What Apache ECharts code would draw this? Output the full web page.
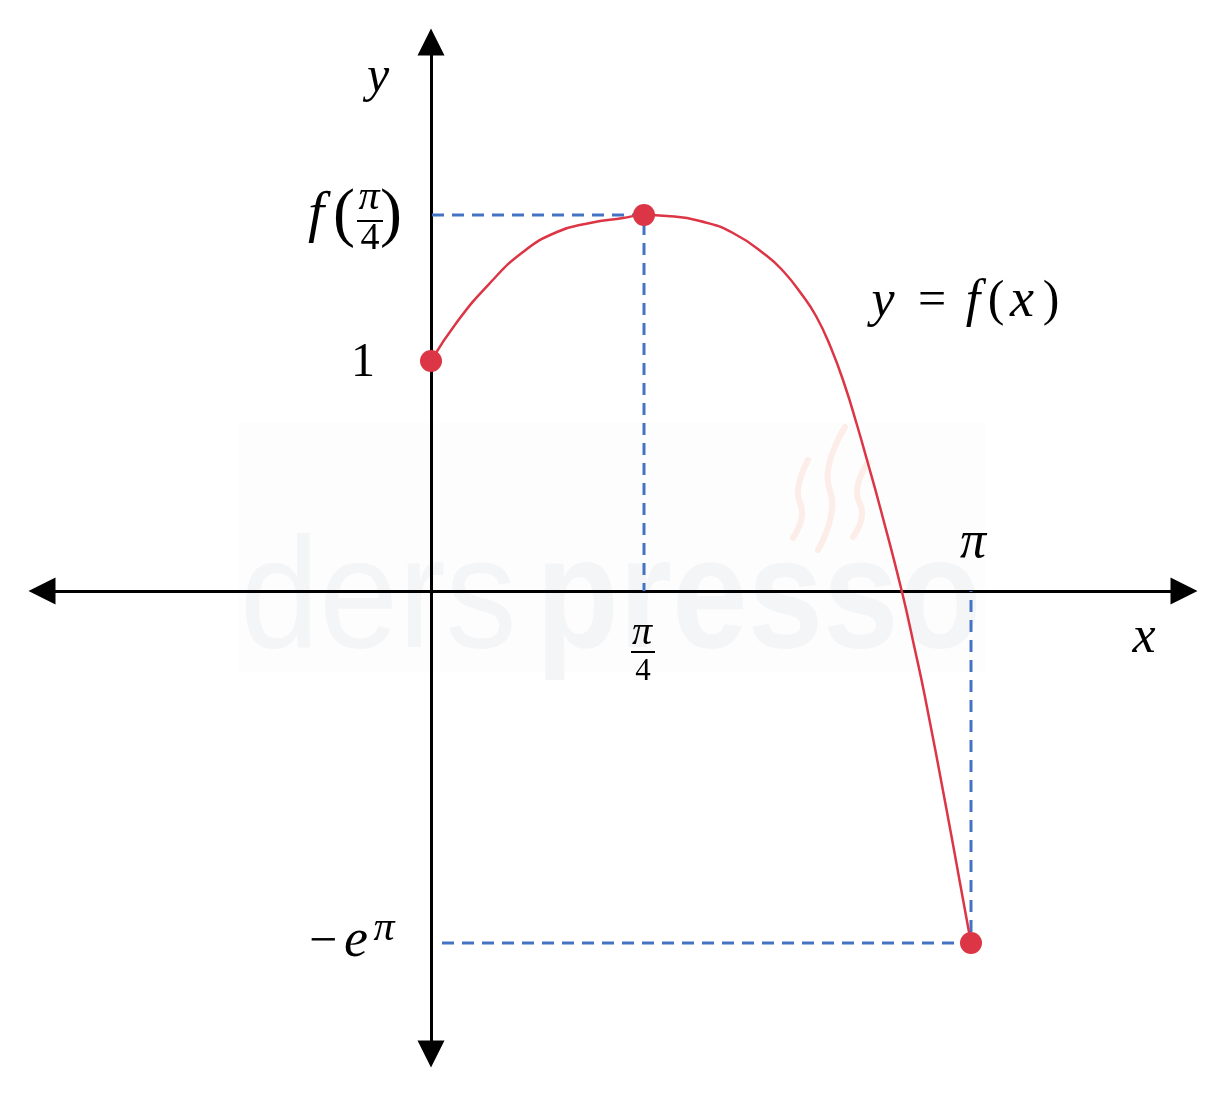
<!DOCTYPE html>
<html><head><meta charset="utf-8">
<script src="https://cdn.jsdelivr.net/npm/echarts@6/dist/echarts.min.js"></script>
<style>html,body{margin:0;padding:0;background:#fff}#c{width:1226px;height:1096px}</style>
</head><body><div id="c"></div>
<script>
// Schematic diagram units (not to scale)
const curveX = [0, 0.26, 0.59, 0.92, 1.26, 1.59, 1.92, 2.13, 2.36, 2.69, 3.02, 3.36, 3.53, 3.69, 3.85, 4.00, 4.14, 4.26, 4.36, 4.49, 4.71, 4.84, 4.94, 5.16, 5.29, 5.40];
const curveY = [2.30, 2.69, 3.08, 3.39, 3.59, 3.68, 3.73, 3.76, 3.75, 3.70, 3.58, 3.35, 3.19, 2.99, 2.75, 2.43, 2.05, 1.66, 1.31, 0.84, -0.01, -0.59, -1.06, -2.21, -2.92, -3.52];
const keyX = [0, 2.13, 5.40];          // 0, π/4, π
const keyY = [2.30, 3.76, -3.52];      // 1, f(π/4), -e^π
const guideStart = [0.01, 0.11];
const xRange = [-3.89, 7.53];
const yRange = [-4.63, 5.49];
const xTickLabels = ['π', '4', 'π'];   // π/4 numerator, denominator, π
const yTickLabels = ['1', 'f', 'π', '4', '−', 'e', 'π'];
const axisTitles = ['x', 'y'];
const curveLabel = ['y', '=', 'f', '(', 'x', ')'];

const RED = '#dc3545', BLUE = '#4472c4';
const chart = echarts.init(document.getElementById('c'), null, {renderer: 'canvas'});
const curve = curveX.map((x, i) => [x, curveY[i]]);
const keyPts = keyX.map((x, i) => [x, keyY[i]]);
const guide1 = [[guideStart[0], keyY[1]], [keyX[1], keyY[1]], [keyX[1], 0]];
const guide2 = [[guideStart[1], keyY[2]], [keyX[2], keyY[2]], [keyX[2], 0]];

const axisCommon = {
  type: 'value',
  axisLine: {onZero: true, symbol: ['triangle', 'triangle'], symbolSize: [27, 27], lineStyle: {color: '#000', width: 3}},
  axisTick: {show: false}, axisLabel: {show: false}, splitLine: {show: false}
};
chart.setOption({
  animation: false,
  grid: {left: 42, right: 42, top: 42, bottom: 42},
  xAxis: Object.assign({min: xRange[0], max: xRange[1]}, axisCommon),
  yAxis: Object.assign({min: yRange[0], max: yRange[1]}, axisCommon),
  series: [
    {type: 'line', data: guide1, symbol: 'none', lineStyle: {color: BLUE, width: 3, type: [12, 8]}, z: 3},
    {type: 'line', data: guide2, symbol: 'none', lineStyle: {color: BLUE, width: 3, type: [12, 8]}, z: 3},
    {type: 'line', data: curve, smooth: 0.5, symbol: 'none', lineStyle: {color: RED, width: 2.5}, z: 4},
    {type: 'scatter', data: keyPts, symbolSize: 22, itemStyle: {color: RED, opacity: 1}, z: 5}
  ]
});

const P = (x, y) => chart.convertToPixel({gridIndex: 0}, [x, y]);
const SERIF = '"Liberation Serif", "DejaVu Serif", serif';
function T(x, y, text, size, italic, extra) {
  return Object.assign({
    type: 'text', x: x, y: y, z: 20,
    style: {text: text, fill: '#000', fontFamily: SERIF, fontSize: size, fontStyle: italic ? 'italic' : 'normal',
      align: 'center', verticalAlign: 'middle', textAlign: 'center', textVerticalAlign: 'middle'}
  }, extra || {});
}
function L(x1, y1, x2, y2) {
  return {type: 'line', z: 20, shape: {x1: x1, y1: y1, x2: x2, y2: y2}, style: {stroke: '#000', lineWidth: 2}};
}

const yTop = P(0, yRange[1]);
const xEnd = P(xRange[1], 0);
const one = P(0, keyY[0]);
const fmax = P(0, keyY[1]);
const emin = P(0, keyY[2]);
const q = P(keyX[1], 0);
const pi = P(keyX[2], 0);
const lab = P(keyX[2], keyY[1]);

const g = [];
// watermark
const WM = '"Liberation Sans", Arial, sans-serif';
g.push({type: 'rect', z: -20, shape: {x: 238, y: 423, width: 747, height: 249}, style: {fill: '#fdfdfd'}});
g.push({type: 'text', z: -10, x: 240, y: 603, scaleX: 0.9, originX: 0, originY: 0,
  style: {text: 'ders', fill: '#f4f5f7', fontFamily: WM, fontSize: 158, align: 'left', verticalAlign: 'middle', textAlign: 'left', textVerticalAlign: 'middle'}});
g.push({type: 'text', z: -10, x: 536, y: 603, scaleX: 0.86, originX: 0, originY: 0,
  style: {text: 'presso', fill: '#f4f5f7', fontFamily: WM, fontWeight: 'bold', fontSize: 158, align: 'left', verticalAlign: 'middle', textAlign: 'left', textVerticalAlign: 'middle'}});
[[[808,460],[798,490],[802,515],[793,538]], [[845,427],[828,470],[832,510],[818,550]], [[868,462],[857,490],[862,515],[853,537]]].forEach(pts => {
  g.push({type: 'polyline', z: -10, shape: {points: pts, smooth: 0.5}, style: {stroke: '#fcede9', lineWidth: 6, lineCap: 'round', fill: null}});
});

// axis titles
g.push(T(yTop[0] - 53, yTop[1] + 36, axisTitles[1], 50, true));
g.push(T(xEnd[0] - 40, xEnd[1] + 47, axisTitles[0], 52, true));
// y labels
g.push(T(one[0] - 68, one[1] + 2, yTickLabels[0], 48, false));
g.push(T(fmax[0] - 115, fmax[1] + 1, yTickLabels[1], 58, true));
g.push(T(fmax[0] - 87, fmax[1] + 2, '(', 66, false));
g.push(T(fmax[0] - 62, fmax[1] - 17, yTickLabels[2], 42, true));
g.push(L(fmax[0] - 74, fmax[1] + 6, fmax[0] - 48, fmax[1] + 6));
g.push(T(fmax[0] - 61, fmax[1] + 24, yTickLabels[3], 38, false));
g.push(T(fmax[0] - 40, fmax[1] + 2, ')', 66, false));
g.push(T(emin[0] - 108, emin[1], yTickLabels[4], 50, false));
g.push(T(emin[0] - 75, emin[1] - 1, yTickLabels[5], 54, true));
g.push(T(emin[0] - 47, emin[1] - 14, yTickLabels[6], 42, true));
// x labels
g.push(T(q[0] - 2, q[1] + 42, xTickLabels[0], 40, true));
g.push(L(q[0] - 13, q[1] + 61, q[0] + 11, q[1] + 61));
g.push(T(q[0] - 1, q[1] + 81, xTickLabels[1], 31, false));
g.push(T(pi[0] + 2, pi[1] - 48, xTickLabels[2], 52, true));
// curve label y = f(x)
const cl = [[-88, 52, true], [-39, 50, false], [2, 52, true], [25, 50, false], [51, 54, true], [80, 50, false]];
curveLabel.forEach((s, i) => g.push(T(lab[0] + cl[i][0], lab[1] + 87, s, cl[i][1], cl[i][2])));

chart.setOption({graphic: {elements: g}});
</script></body></html>
